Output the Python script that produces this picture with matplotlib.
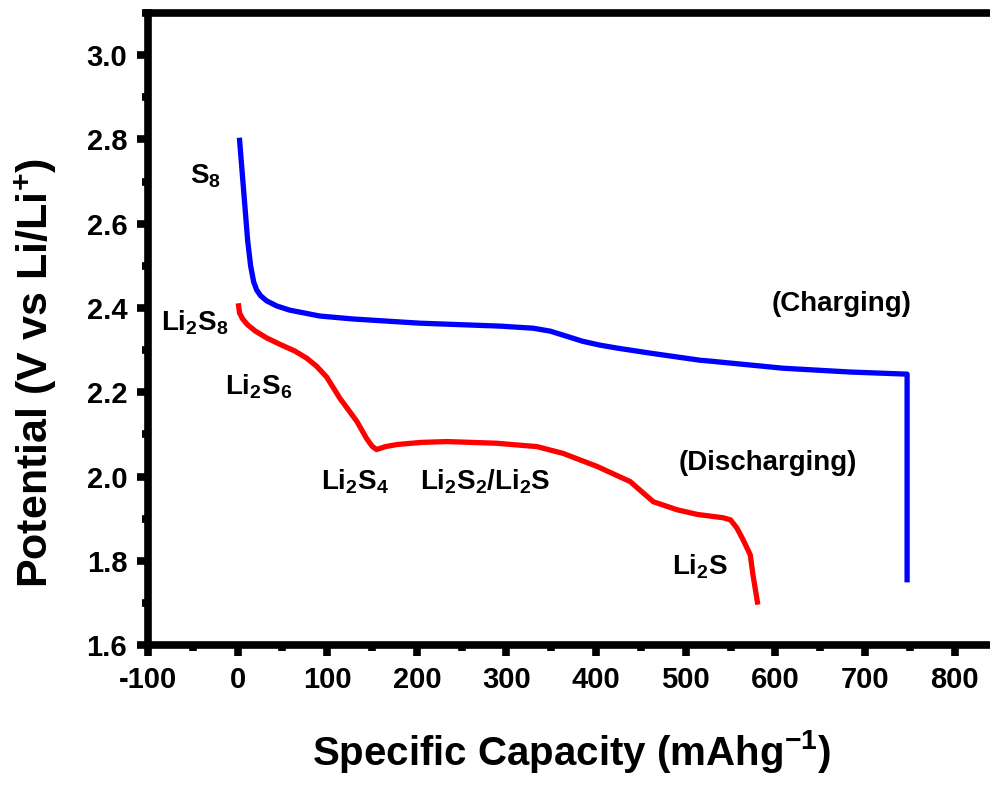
import matplotlib
matplotlib.use("Agg")
import matplotlib.pyplot as plt
from matplotlib.ticker import MultipleLocator

plt.rcParams['font.family'] = ['Liberation Sans', 'DejaVu Sans']
plt.rcParams['font.weight'] = 'bold'
plt.rcParams['axes.unicode_minus'] = False
plt.rcParams['mathtext.fontset'] = 'custom'
plt.rcParams['mathtext.rm'] = 'Liberation Sans:bold'
plt.rcParams['mathtext.it'] = 'Liberation Sans:bold'
plt.rcParams['mathtext.bf'] = 'Liberation Sans:bold'
plt.rcParams['mathtext.default'] = 'bf'

# charging curve (blue)
charge_cap = [2.2, 6.7, 11.2, 14.5, 17.9, 21.2, 25.7, 32.4, 43.5, 58, 91.6, 128.5,
              203, 293, 330, 349, 367, 385, 404, 423, 460, 516, 527, 609, 684, 747, 747]
charge_v = [2.798, 2.679, 2.560, 2.500, 2.462, 2.443, 2.429, 2.417, 2.405, 2.395,
            2.381, 2.374, 2.364, 2.357, 2.352, 2.345, 2.333, 2.321, 2.312, 2.305,
            2.293, 2.276, 2.274, 2.257, 2.248, 2.243, 1.755]

# discharging curve (red)
dis_cap = [1.1, 2.2, 5.6, 11.2, 20, 32.4, 47, 63.7, 77, 88, 99.4, 114, 133, 144, 150,
           155, 165, 178, 205, 233.5, 289, 334, 363, 401, 438, 452, 464, 490.5, 513,
           542, 550, 557, 564, 572, 575, 580]
dis_v = [2.405, 2.388, 2.374, 2.360, 2.345, 2.329, 2.314, 2.298, 2.281, 2.262, 2.236,
         2.186, 2.131, 2.090, 2.072, 2.064, 2.071, 2.076, 2.081, 2.083, 2.079, 2.071,
         2.055, 2.024, 1.988, 1.962, 1.940, 1.921, 1.910, 1.902, 1.897, 1.878, 1.850,
         1.814, 1.767, 1.702]

# text labels: (text, x, y)
labels = [
    (r'S$_8$', -36, 2.712),
    (r'Li$_2$S$_8$', -48, 2.364),
    (r'Li$_2$S$_6$', 23.5, 2.214),
    (r'Li$_2$S$_4$', 131, 1.988),
    (r'Li$_2$S$_2$/Li$_2$S', 276, 1.988),
    ('(Discharging)', 592, 2.033),
    ('(Charging)', 674, 2.410),
    (r'Li$_2$S', 516, 1.786),
]

fig = plt.figure(figsize=(9.9, 7.85), dpi=100)
ax = fig.add_axes([0.1495, 0.1783, 0.86, 0.805])

ax.plot(charge_cap, charge_v, color='#0000ff', lw=3.8, solid_joinstyle='round')
ax.plot(dis_cap, dis_v, color='#ff0000', lw=3.8, solid_joinstyle='round')

for txt, x, y in labels:
    ax.text(x, y, txt, fontsize=20, fontweight='bold', ha='center', va='center')

ax.set_xlim(-100, 850)
ax.set_ylim(1.6, 3.1)
ax.xaxis.set_minor_locator(MultipleLocator(50))
ax.yaxis.set_minor_locator(MultipleLocator(0.1))
ax.set_xticks(range(-100, 801, 100))
yt = [1.6, 1.8, 2.0, 2.2, 2.4, 2.6, 2.8, 3.0]
ax.set_yticks(yt)
ax.set_yticklabels([f"{v:.1f}" for v in yt])

for s in ax.spines.values():
    s.set_linewidth(5.5)
ax.tick_params(which='major', direction='out', length=8, width=5.5, labelsize=21, pad=7)
ax.tick_params(which='minor', direction='out', length=4.5, width=5.5)
for lab in ax.get_xticklabels() + ax.get_yticklabels():
    lab.set_fontweight('bold')

fig.text(0.577, 0.0255, r'Specific Capacity (mAhg$^{\mathbf{-1}}$)', fontsize=29,
         fontweight='bold', ha='center', va='baseline')
fig.text(0.036, 0.525, r'Potential (V vs Li/Li$^{\mathbf{+}}$)', fontsize=31,
         fontweight='bold', ha='center', va='center', rotation=90)

fig.savefig('out.png', dpi=100)
